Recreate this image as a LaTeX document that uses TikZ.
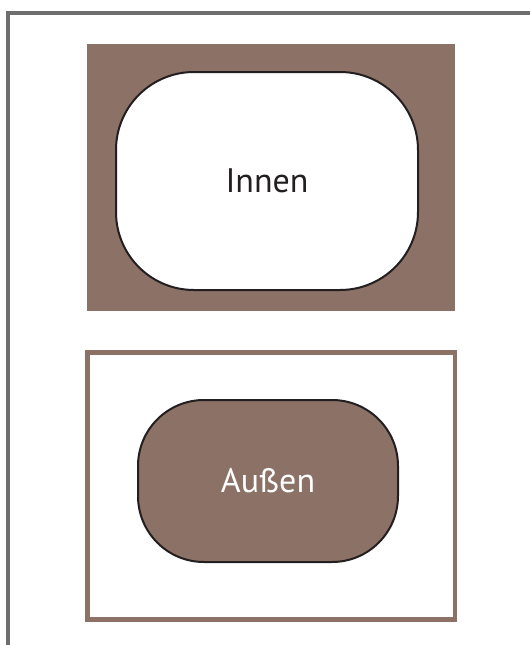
\documentclass[tikz,border=0pt]{standalone}
\usepackage{fontspec}
\setmainfont{PT Sans}
\definecolor{earth}{RGB}{140,113,102}
\definecolor{framegray}{RGB}{110,110,110}
\definecolor{ink}{RGB}{35,31,32}
\begin{document}
\begin{tikzpicture}[x=1pt,y=-1pt,
  roundbox/.style={draw=ink,line width=2pt,rounded corners=#1},
  label/.style={font=\fontsize{34}{40}\selectfont}]
\useasboundingbox (0,0) rectangle (530,645);
% open frame on top and left
\draw[framegray,line width=4pt] (7.5,645) -- (7.5,12.5) -- (530,12.5);
% upper panel: brown field with white island
\fill[earth] (87,44) rectangle (455,311);
\draw[roundbox=78,fill=white] (116,72) rectangle (418,290);
\node[label,text=ink] (innen) at (267,181) {Innen};
% lower panel: white field with brown island
\draw[earth,line width=4.5pt] (87.5,352.5) rectangle (455,619.5);
\draw[roundbox=66,fill=earth] (138,400) rectangle (398,562);
\node[label,text=white] (aussen) at (268,481) {Außen};
\end{tikzpicture}
\end{document}
